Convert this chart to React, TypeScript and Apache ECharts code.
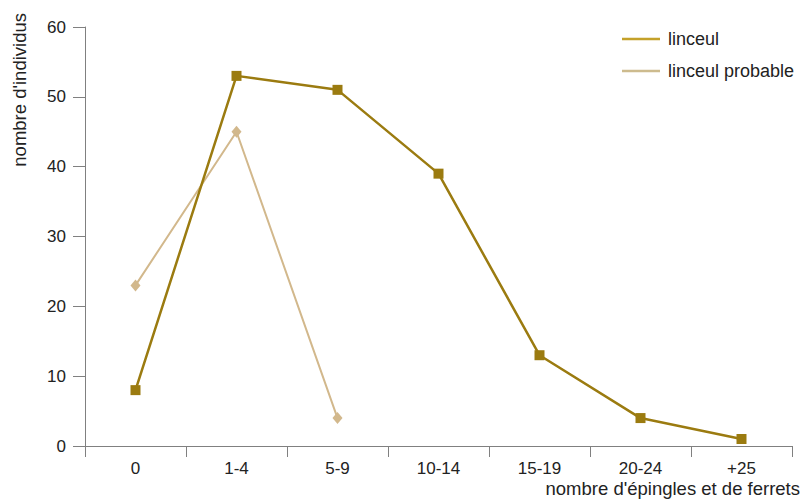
import React, { useEffect, useRef } from "react";
import * as echarts from "echarts";

const categories = ["0", "1-4", "5-9", "10-14", "15-19", "20-24", "+25"];
const linceul = [8, 53, 51, 39, 13, 4, 1];
const linceulProbable = [23, 45, 4, null, null, null, null];
const yTicks = { min: 0, max: 60, interval: 10 };
const xName = "nombre d'épingles et de ferrets";
const yName = "nombre d'individus";

const dark = "#9b7b10";
const light = "#d2b88c";
const axisColor = "#808080";
const font = "Liberation Sans, Arial, sans-serif";

export default function App() {
  const ref = useRef<HTMLDivElement>(null);
  useEffect(() => {
    if (!ref.current) return;
    const chart = echarts.init(ref.current, undefined, { renderer: "svg" });
    chart.setOption({
      animation: false,
      backgroundColor: "#ffffff",
      textStyle: { fontFamily: font },
      grid: { left: 85, right: 9, top: 27, bottom: 56, containLabel: false },
      legend: {
        orient: "vertical",
        left: 617,
        top: 25,
        itemGap: 14,
        itemWidth: 38,
        itemHeight: 20,
        icon: "path://M0,0H38V2.5H0Z",
        textStyle: { fontSize: 18, color: "#222", fontFamily: font, padding: [0, 0, 0, 3] },
        data: [
          { name: "linceul", itemStyle: { color: "#c4a12a" } },
          { name: "linceul probable", itemStyle: { color: "#cdbb8e" } },
        ],
      },
      xAxis: {
        type: "category",
        data: categories,
        boundaryGap: true,
        axisLine: { lineStyle: { color: axisColor, width: 1 } },
        axisTick: { show: true, length: 11, lineStyle: { color: axisColor } },
        axisLabel: { color: "#222", fontSize: 17, margin: 14, fontFamily: font },
        splitLine: { show: false },
      },
      yAxis: {
        type: "value",
        min: yTicks.min,
        max: yTicks.max,
        interval: yTicks.interval,
        axisLine: { show: true, lineStyle: { color: axisColor, width: 1 } },
        axisTick: { show: true, length: 12, lineStyle: { color: axisColor } },
        axisLabel: { color: "#222", fontSize: 17, margin: 19, fontFamily: font },
        splitLine: { show: false },
      },
      graphic: [
        {
          type: "text",
          x: 800,
          y: 488,
          style: {
            text: xName,
            fontSize: 18.5,
            fill: "#222",
            fontFamily: font,
            align: "right",
            verticalAlign: "middle",
          },
        },
        {
          type: "text",
          x: 10,
          y: 13,
          rotation: Math.PI / 2,
          style: {
            text: yName,
            fontSize: 18.5,
            fill: "#222",
            fontFamily: font,
            align: "right",
            verticalAlign: "top",
          },
        },
      ],
      series: [
        {
          name: "linceul probable",
          type: "line",
          data: linceulProbable,
          symbol: "diamond",
          symbolSize: [10, 12],
          lineStyle: { color: light, width: 2 },
          itemStyle: { color: light },
          z: 2,
        },
        {
          name: "linceul",
          type: "line",
          data: linceul,
          symbol: "rect",
          symbolSize: 10,
          lineStyle: { color: dark, width: 2.5 },
          itemStyle: { color: dark },
          z: 3,
        },
      ],
    });
    return () => chart.dispose();
  }, []);
  return <div ref={ref} style={{ width: 801, height: 502, position: "absolute", left: 0, top: 0 }} />;
}
